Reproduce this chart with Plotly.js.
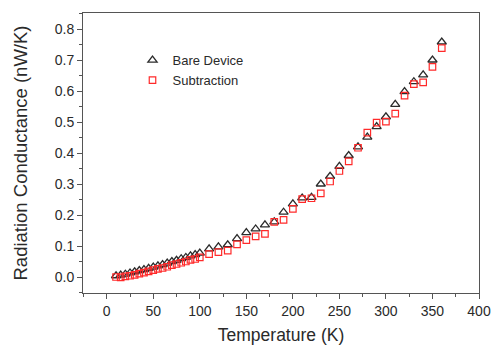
<!DOCTYPE html>
<html>
<head>
<meta charset="utf-8">
<script src="https://cdn.plot.ly/plotly-3.0.1.min.js"></script>
<style>
  html, body { margin: 0; padding: 0; background: #fff; }
  #chart { width: 495px; height: 345px; }
</style>
</head>
<body>
<div id="chart"></div>
<script>
// Temperature sweep (K)
const temperature = [10, 15, 20, 25, 30, 35, 40, 45, 50, 55, 60, 65, 70, 75, 80, 85, 90, 95, 100,
  110, 120, 130, 140, 150, 160, 170, 180, 190, 200, 210, 220, 230, 240, 250, 260, 270, 280, 290,
  300, 310, 320, 330, 340, 350, 360];

// Radiation conductance of the bare device (nW/K)
const bareDevice = [0.004, 0.006, 0.009, 0.013, 0.017, 0.021, 0.024, 0.028, 0.032, 0.036, 0.040,
  0.045, 0.050, 0.054, 0.059, 0.063, 0.068, 0.072, 0.077,
  0.091, 0.097, 0.104, 0.124, 0.143, 0.155, 0.168, 0.178, 0.209, 0.236, 0.255, 0.257, 0.300,
  0.325, 0.357, 0.392, 0.420, 0.451, 0.485, 0.517, 0.557, 0.598, 0.630, 0.652, 0.700, 0.758];

// Radiation conductance after subtraction (nW/K)
const subtraction = [0.000, -0.001, 0.002, 0.004, 0.007, 0.011, 0.014, 0.018, 0.022, 0.026, 0.029,
  0.033, 0.038, 0.042, 0.046, 0.050, 0.055, 0.058, 0.063,
  0.074, 0.080, 0.085, 0.105, 0.119, 0.131, 0.139, 0.178, 0.184, 0.220, 0.251, 0.254, 0.270,
  0.308, 0.342, 0.373, 0.417, 0.466, 0.498, 0.501, 0.527, 0.585, 0.622, 0.628, 0.678, 0.738];

const seriesNames = ['Bare Device', 'Subtraction'];

const fontFamily = 'Arial, "Liberation Sans", sans-serif';
const textColor = '#2a2a2a';
const axisColor = '#555';

const traces = [
  {
    x: temperature, y: bareDevice, name: seriesNames[0],
    type: 'scatter', mode: 'markers',
    marker: { symbol: 'triangle-up-open', size: 8, color: '#2b2b2b', line: { width: 1.3 } }
  },
  {
    x: temperature, y: subtraction, name: seriesNames[1],
    type: 'scatter', mode: 'markers',
    marker: { symbol: 'square-open', size: 6.5, color: '#ff2a2a', line: { width: 1.2 } }
  }
];

const axisCommon = {
  showline: true, linecolor: axisColor, linewidth: 1, mirror: true,
  ticks: 'outside', ticklen: 5, tickwidth: 1, tickcolor: axisColor,
  showgrid: false, zeroline: false,
  tickfont: { family: fontFamily, size: 14, color: textColor },
  minor: { ticks: 'outside', ticklen: 3, tickwidth: 1, tickcolor: axisColor }
};

const layout = {
  width: 495, height: 345,
  margin: { l: 83, r: 16, t: 13, b: 52 },
  paper_bgcolor: '#fff', plot_bgcolor: '#fff',
  font: { family: fontFamily, color: textColor },
  showlegend: true,
  legend: {
    x: 0.125, y: 0.885, xanchor: 'left', yanchor: 'top',
    bgcolor: 'rgba(0,0,0,0)', borderwidth: 0,
    font: { family: fontFamily, size: 13, color: textColor }
  },
  xaxis: Object.assign({}, axisCommon, {
    range: [-25.5, 400], tickmode: 'linear', tick0: 0, dtick: 50,
    automargin: false,
    minor: Object.assign({}, axisCommon.minor, { dtick: 25 }),
    title: { text: 'Temperature (K)', standoff: 17,
             font: { family: fontFamily, size: 17.5, color: textColor } }
  }),
  yaxis: Object.assign({}, axisCommon, {
    range: [-0.0516, 0.8516], tickmode: 'linear', tick0: 0, dtick: 0.1,
    tickformat: '.1f', automargin: false,
    minor: Object.assign({}, axisCommon.minor, { dtick: 0.05 }),
    title: { text: 'Radiation Conductance (nW/K)', standoff: 22,
             font: { family: fontFamily, size: 18.5, color: textColor } }
  })
};

Plotly.newPlot('chart', traces, layout, { displayModeBar: false, staticPlot: true });
</script>
</body>
</html>
